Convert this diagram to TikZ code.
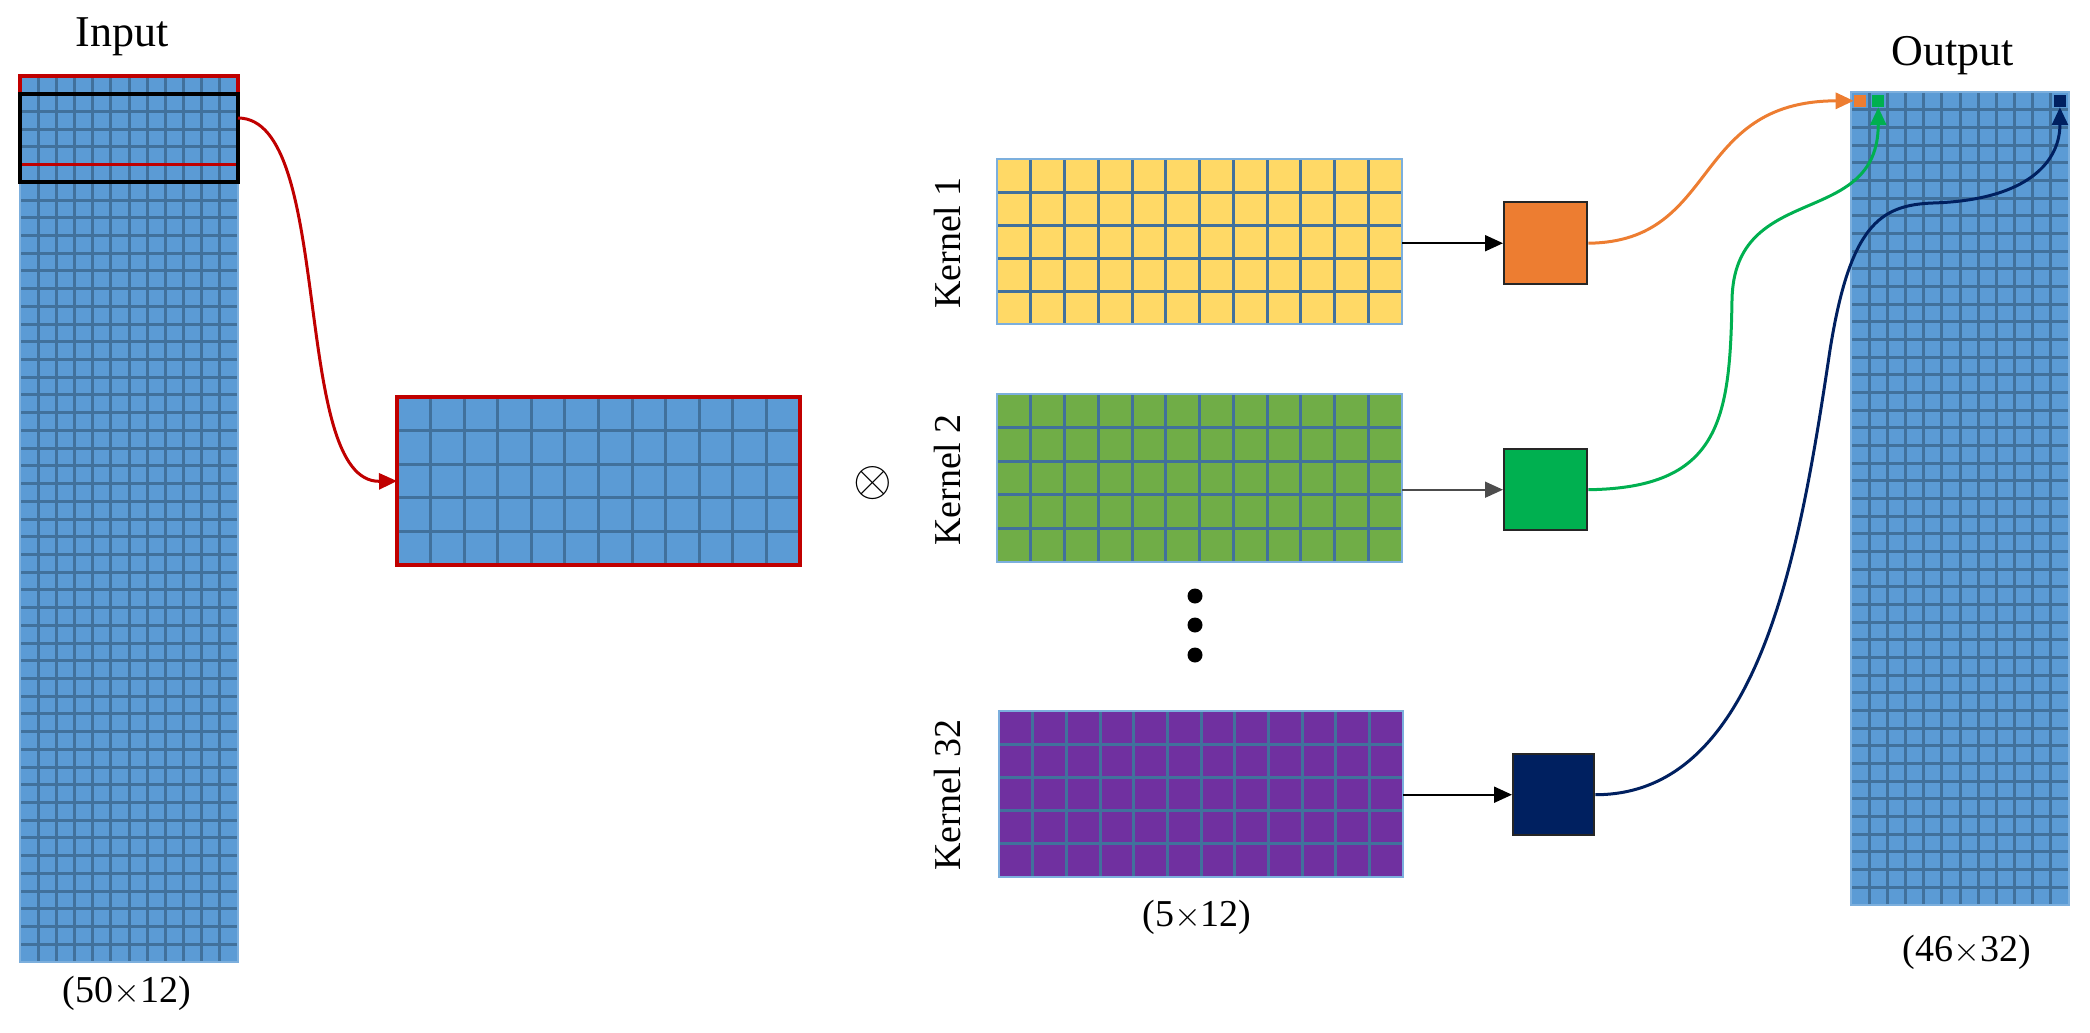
\documentclass[tikz,border=0pt]{standalone}
\usepackage{fontspec}
\setmainfont{Liberation Serif}
\usetikzlibrary{arrows.meta}
\definecolor{cellblue}{HTML}{5B9BD5}
\definecolor{glinec}{HTML}{41719C}
\definecolor{kyel}{HTML}{FFD966}
\definecolor{kgrn}{HTML}{70AD47}
\definecolor{kpur}{HTML}{7030A0}
\definecolor{bor}{HTML}{ED7D31}
\definecolor{bgr}{HTML}{00B050}
\definecolor{bnv}{HTML}{002060}
\definecolor{rred}{HTML}{C00000}
\tikzset{
  gridnode/.style={draw=cellblue!80!white, line width=1pt, inner sep=0pt, outer sep=0pt, anchor=north west},
  cellline/.style={draw=glinec, line width=1.5pt},
  outbox/.style={draw=black!85, line width=1.2pt, inner sep=0pt, anchor=north west},
  conn/.style={line width=1.5pt, -{Triangle[length=9pt,width=8pt]}},
  lab/.style={font=\fontsize{19}{22}\selectfont},
  title/.style={font=\fontsize{22}{26}\selectfont}
}
% name, x, y, w, h, cols, rows, fill
\newcommand{\gridbox}[8]{%
  \pgfmathsetmacro\gw{#4*0.5}\pgfmathsetmacro\gh{#5*0.5}%
  \pgfmathsetmacro\gdx{#4/#6}\pgfmathsetmacro\gdy{#5/#7}%
  \node[gridnode, fill=#8, minimum width=\gw pt, minimum height=\gh pt] (#1) at (#2,#3) {};
  \pgfmathtruncatemacro\gcm{#6-1}\pgfmathtruncatemacro\grm{#7-1}%
  \foreach \i in {1,...,\gcm} {\draw[cellline] ({#2+\i*\gdx},#3) -- ++(0,#5);}
  \foreach \j in {1,...,\grm} {\draw[cellline] (#2,{#3+\j*\gdy}) -- ++(#4,0);}
  \draw[cellblue!80!white, line width=1pt] (#1.north west) rectangle (#1.south east);
}
\begin{document}
\begin{tikzpicture}[x=0.5pt,y=-0.5pt]
\useasboundingbox (0,0) rectangle (2090,1033);
% input
\gridbox{inp}{20}{76}{218}{886}{12}{50}{cellblue}
\node[title] (tin) at (122,37) {Input};
\node[lab] (din) at (127,993) {(50$\times$12)};
\draw[rred, line width=1.8pt] (20,76) rectangle (238,164.6);
\draw[black, line width=1.8pt] (20,93.7) rectangle (238,182);
\coordinate (rs) at (238,118);
% middle
\gridbox{mid}{397}{397}{403}{168}{12}{5}{cellblue}
\draw[rred, line width=1.8pt] (mid.north west) rectangle (mid.south east);
\draw[rred, conn] (rs) .. controls (335,118) and (290,483) .. (mid.west);
\node[font=\fontsize{26}{30}\selectfont] (ot) at (873,483) {$\otimes$};
% kernels
\gridbox{k1}{997}{159}{405}{165}{12}{5}{kyel}
\gridbox{k2}{997}{394}{405}{168}{12}{5}{kgrn}
\gridbox{k3}{999}{711}{404}{166}{12}{5}{kpur}
\node[lab, rotate=90] (l1) at (947,243) {Kernel 1};
\node[lab, rotate=90] (l2) at (947,480) {Kernel 2};
\node[lab, rotate=90] (l3) at (947,795) {Kernel 32};
\node[lab] (dk) at (1197,917) {(5$\times$12)};
\fill (1195,596) circle (3.75pt);
\fill (1195,625) circle (3.75pt);
\fill (1195,655) circle (3.75pt);
% result boxes
\node[outbox, fill=bor, minimum width=41.5pt, minimum height=41pt] (ob) at (1503,201) {};
\node[outbox, fill=bgr, minimum width=41.5pt, minimum height=40.5pt] (gb) at (1503,448) {};
\node[outbox, fill=bnv, minimum width=40.5pt, minimum height=40.5pt] (nb) at (1512,753) {};
\draw[conn, line width=1pt] (k1.east |- ob.west) -- (ob.west);
\draw[conn, line width=0.8pt, black!70] (k2.east |- gb.west) -- (gb.west);
\draw[conn, line width=1pt] (k3.east |- nb.west) -- (nb.west);
% output
\gridbox{out}{1851}{92}{218}{813}{12}{46}{cellblue}
\node[title] (tout) at (1953,56) {Output};
\node[lab] (dout) at (1967,952) {(46$\times$32)};
\node[inner sep=0pt, fill=bor, minimum width=6pt, minimum height=6pt] (oc) at (1860.1,100.8) {};
\node[inner sep=0pt, fill=bgr, minimum width=6pt, minimum height=6pt] (gc) at (1878.3,100.8) {};
\node[inner sep=0pt, fill=bnv, minimum width=6pt, minimum height=6pt] (nc) at (2059.9,100.8) {};
\draw[conn, draw=bor] (ob.east) .. controls (1720,242) and (1690,101) .. (oc.west);
\draw[conn, draw=bgr] (gb.east) .. controls (1720,488) and (1730,420) .. (1732,300) .. controls (1734,180) and (1878,230) .. (gc.south);
\draw[conn, draw=bnv] (nb.east) .. controls (1760,795) and (1800,550) .. (1830,350) .. controls (1850,225) and (1880,205) .. (1933,203) .. controls (2030,200) and (2060,160) .. (nc.south);
\end{tikzpicture}
\end{document}
